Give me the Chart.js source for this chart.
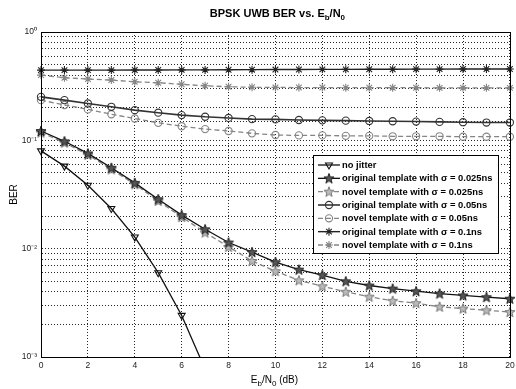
<!DOCTYPE html>
<html>
<head>
<meta charset="utf-8">
<script src="https://cdn.jsdelivr.net/npm/chart.js@4/dist/chart.umd.min.js"></script>
<style>
  html, body { margin: 0; padding: 0; background: #fff; }
</style>
</head>
<body>
<canvas id="berChart" width="516" height="389"></canvas>
<script>
const ebn0 = [0, 1, 2, 3, 4, 5, 6, 7, 8, 9, 10, 11, 12, 13, 14, 15, 16, 17, 18, 19, 20];
const xTicks = [0, 2, 4, 6, 8, 10, 12, 14, 16, 18, 20];
const yTickLabels = ['10\u207B\u00B3', '10\u207B\u00B2', '10\u207B\u00B9', '10\u2070'];

const seriesNames = [
    'no jitter',
    'original template with \u03C3 = 0.025ns',
    'novel template with \u03C3 = 0.025ns',
    'original template with \u03C3 = 0.05ns',
    'novel template with \u03C3 = 0.05ns',
    'original template with \u03C3 = 0.1ns',
    'novel template with \u03C3 = 0.1ns'
];

// BER values
const noJitter = [0.080, 0.0578, 0.0385, 0.0235, 0.0128, 0.0060, 0.00242, 0.00077];
const origSigma025 = [0.122, 0.098, 0.0757, 0.0558, 0.0405, 0.0286, 0.0204, 0.0151, 0.0114, 0.0093, 0.0075,
    0.0064, 0.0057, 0.0050, 0.00457, 0.00428, 0.00405, 0.00385, 0.0037, 0.00357, 0.00345];
const novelSigma025 = [0.118, 0.095, 0.0735, 0.054, 0.0393, 0.0276, 0.0196, 0.0141, 0.0104, 0.0077, 0.0062,
    0.0051, 0.0045, 0.0040, 0.0036, 0.0033, 0.00314, 0.00291, 0.0028, 0.0027, 0.0026];
const origSigma05 = [0.252, 0.235, 0.219, 0.204, 0.19, 0.18, 0.171, 0.165, 0.161, 0.157, 0.156,
    0.154, 0.153, 0.152, 0.151, 0.150, 0.149, 0.148, 0.147, 0.146, 0.146];
const novelSigma05 = [0.235, 0.212, 0.193, 0.174, 0.159, 0.145, 0.135, 0.127, 0.122, 0.116, 0.112,
    0.111, 0.111, 0.110, 0.110, 0.109, 0.109, 0.109, 0.108, 0.108, 0.108];
const origSigma1 = [0.445, 0.445, 0.445, 0.445, 0.446, 0.446, 0.447, 0.447, 0.448, 0.449, 0.450,
    0.451, 0.452, 0.452, 0.453, 0.453, 0.454, 0.454, 0.455, 0.455, 0.455];
const novelSigma1 = [0.40, 0.378, 0.368, 0.36, 0.347, 0.34, 0.329, 0.319, 0.312, 0.309, 0.308,
    0.307, 0.307, 0.306, 0.306, 0.306, 0.306, 0.305, 0.305, 0.305, 0.305];

const seriesValues = [noJitter, origSigma025, novelSigma025, origSigma05, novelSigma05, origSigma1, novelSigma1];

// little pentagram marker, matlab 'p'
const makePentagram = (stroke, fill) => {
    const c = document.createElement('canvas');
    c.width = 12;
    c.height = 12;
    const g = c.getContext('2d');
    g.beginPath();
    for (let i = 0; i < 10; i++) {
        const r = i % 2 === 0 ? 5.3 : 2.2;
        const a = -Math.PI / 2 + i * Math.PI / 5;
        const px = 6 + r * Math.cos(a);
        const py = 6.4 + r * Math.sin(a);
        if (i === 0) g.moveTo(px, py); else g.lineTo(px, py);
    }
    g.closePath();
    g.fillStyle = fill;
    g.fill();
    g.lineWidth = 1;
    g.strokeStyle = stroke;
    g.stroke();
    return c;
};

const DARK = '#111';
const GREY = '#858585';
const DASH = [5, 3];

const styles = [
    { color: DARK, dash: [], width: 1.3, point: 'triangle', rotation: 180, radius: 4 },
    { color: DARK, dash: [], width: 1.3, point: makePentagram('#222', '#555'), rotation: 0, radius: 5 },
    { color: GREY, dash: DASH, width: 1.3, point: makePentagram('#777', '#bbb'), rotation: 0, radius: 5 },
    { color: '#333', dash: [], width: 1.6, point: 'circle', rotation: 0, radius: 3.6 },
    { color: GREY, dash: DASH, width: 1.3, point: 'circle', rotation: 0, radius: 3.6 },
    { color: '#222', dash: [], width: 1.4, point: 'star', rotation: 0, radius: 4 },
    { color: GREY, dash: DASH, width: 1.3, point: 'star', rotation: 0, radius: 4 }
];

const datasets = seriesValues.map((vals, i) => ({
    label: seriesNames[i],
    data: vals.map((v, k) => ({ x: ebn0[k], y: v })),
    borderColor: styles[i].color,
    borderWidth: styles[i].width,
    borderDash: styles[i].dash,
    pointStyle: styles[i].point,
    pointRotation: styles[i].rotation,
    pointRadius: styles[i].radius,
    pointBorderColor: styles[i].color,
    pointBackgroundColor: 'rgba(0,0,0,0)',
    pointBorderWidth: 1.1,
    tension: 0,
    fill: false,
    clip: { left: 6, right: 6, top: 6, bottom: 0 }
}));

// draws text with _sub parts, centred at x
const drawRich = (ctx, parts, x, y, size, weight) => {
    const subSize = Math.round(size * 0.75);
    let total = 0;
    parts.forEach(p => {
        ctx.font = `${weight} ${p.sub ? subSize : size}px "Liberation Sans", Arial, sans-serif`;
        p.w = ctx.measureText(p.t).width;
        total += p.w;
    });
    let cx = x - total / 2;
    parts.forEach(p => {
        ctx.font = `${weight} ${p.sub ? subSize : size}px "Liberation Sans", Arial, sans-serif`;
        ctx.fillText(p.t, cx, p.sub ? y + 3 : y);
        cx += p.w;
    });
};

const decorations = {
    id: 'decorations',
    afterDraw(chart) {
        const ctx = chart.ctx;
        const area = chart.chartArea;
        ctx.save();

        // box round the axes
        ctx.strokeStyle = '#000';
        ctx.lineWidth = 1;
        ctx.strokeRect(Math.round(area.left) + 0.5, Math.round(area.top) + 0.5,
            Math.round(area.right - area.left), Math.round(area.bottom - area.top));

        ctx.fillStyle = '#000';
        ctx.textBaseline = 'alphabetic';
        ctx.textAlign = 'left';
        const midX = (area.left + area.right) / 2;

        drawRich(ctx, [{ t: 'BPSK UWB BER vs. E' }, { t: 'b', sub: true }, { t: '/N' }, { t: '0', sub: true }],
            midX + 2, 17, 11, 'bold');
        drawRich(ctx, [{ t: 'E' }, { t: 'b', sub: true }, { t: '/N' }, { t: '0', sub: true }, { t: ' (dB)' }],
            midX - 1, 383, 10, 'normal');

        ctx.save();
        ctx.translate(17, (area.top + area.bottom) / 2);
        ctx.rotate(-Math.PI / 2);
        ctx.textAlign = 'center';
        ctx.font = '10px "Liberation Sans", Arial, sans-serif';
        ctx.fillText('BER', 0, 0);
        ctx.restore();

        // legend box
        const lx = 313, ly = 155, lw = 185, lh = 98;
        ctx.fillStyle = '#fff';
        ctx.fillRect(lx, ly, lw, lh);
        ctx.strokeStyle = '#000';
        ctx.lineWidth = 1;
        ctx.strokeRect(lx + 0.5, ly + 0.5, lw, lh);

        chart.data.datasets.forEach((ds, i) => {
            const y = ly + 10 + i * 13.33;
            ctx.save();
            ctx.strokeStyle = ds.borderColor;
            ctx.lineWidth = ds.borderWidth;
            ctx.setLineDash(ds.borderDash);
            ctx.beginPath();
            ctx.moveTo(lx + 5, y);
            ctx.lineTo(lx + 27, y);
            ctx.stroke();
            ctx.setLineDash([]);
            ctx.lineWidth = ds.pointBorderWidth;
            ctx.fillStyle = ds.pointBackgroundColor;
            Chart.helpers.drawPoint(ctx, {
                pointStyle: ds.pointStyle,
                rotation: ds.pointRotation,
                radius: ds.pointRadius,
                borderWidth: ds.pointBorderWidth
            }, lx + 16, y);
            ctx.restore();

            ctx.fillStyle = '#000';
            ctx.font = 'bold 9.4px "Liberation Sans", Arial, sans-serif';
            ctx.textBaseline = 'middle';
            ctx.fillText(ds.label, lx + 29, y + 0.5);
        });
        ctx.restore();
    }
};

const gridStyle = { color: 'rgba(0,0,0,0.85)', lineWidth: 1, drawTicks: false };
const tickFont = { family: '"Liberation Sans", Arial, sans-serif', size: 8.5 };

const berChart = new Chart(document.getElementById('berChart'), {
    type: 'line',
    data: { datasets: datasets },
    options: {
        responsive: false,
        animation: false,
        devicePixelRatio: 1,
        layout: { padding: { top: 32, right: 0, left: 0, bottom: 0 } },
        plugins: {
            legend: { display: false },
            title: { display: false },
            tooltip: { enabled: false }
        },
        scales: {
            x: {
                type: 'linear',
                min: 0,
                max: 20,
                afterBuildTicks: (scale) => { scale.ticks = xTicks.map(v => ({ value: v })); },
                ticks: { color: '#222', font: tickFont, padding: 4, maxRotation: 0, autoSkip: false },
                grid: gridStyle,
                border: { display: true, color: '#000', width: 1, dash: [1, 2] },
                afterFit: (scale) => {
                    scale.height = 32;
                    scale.paddingRight = 3;
                    scale.paddingLeft = 0;
                }
            },
            y: {
                type: 'logarithmic',
                min: 0.001,
                max: 1,
                ticks: {
                    color: '#222',
                    font: tickFont,
                    padding: 4,
                    autoSkip: false,
                    callback: (value) => {
                        const e = Math.log10(value);
                        if (Math.abs(e - Math.round(e)) > 1e-6) return '';
                        return yTickLabels[Math.round(e) + 3];
                    }
                },
                grid: gridStyle,
                border: { display: true, color: '#000', width: 1, dash: [1, 2] },
                afterFit: (scale) => { scale.width = 41; }
            }
        }
    },
    plugins: [decorations]
});
</script>
</body>
</html>
